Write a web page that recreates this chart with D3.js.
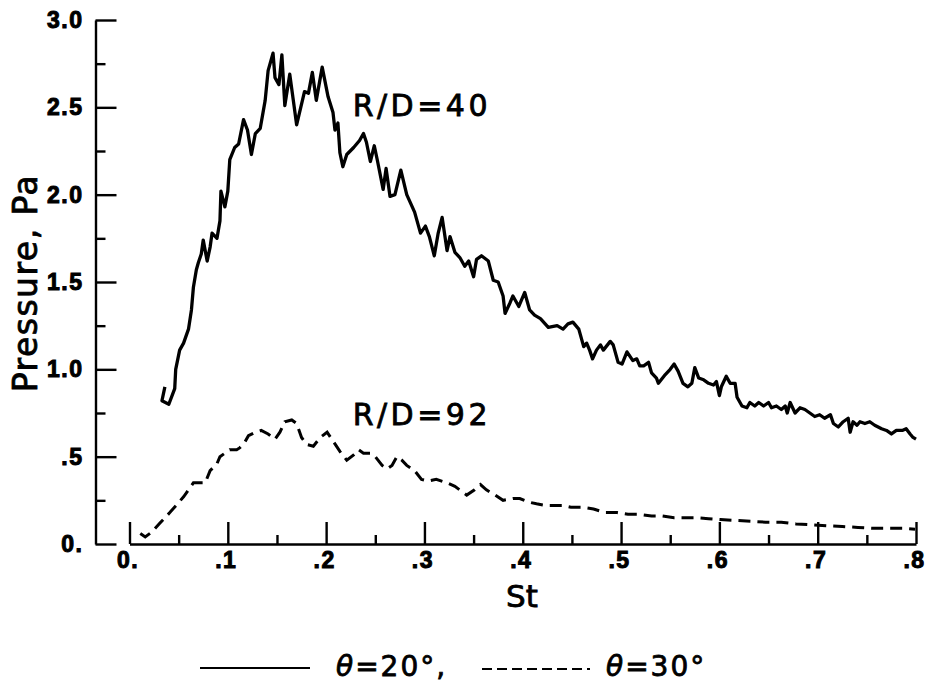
<!DOCTYPE html>
<html>
<head>
<meta charset="utf-8">
<script src="https://cdn.jsdelivr.net/npm/d3@7/dist/d3.min.js"></script>
<style>
  html, body { margin: 0; padding: 0; background: #fff; }
  svg { display: block; }
  .lbl { font-family: "DejaVu Sans", sans-serif; fill: #000; stroke: #000; stroke-width: 0.8px; }
</style>
</head>
<body>
<svg id="chart" width="927" height="690"></svg>
<script>
// Strouhal number (St) and pressure (Pa) for theta = 20 deg, R/D = 40
const solidSt = [0.036,0.033,0.040,0.046,0.047,0.051,0.055,0.060,0.063,0.065,
  0.068,0.070,0.073,0.075,0.079,0.082,0.084,0.089,0.092,0.093,
  0.097,0.100,0.102,0.107,0.111,0.116,0.120,0.124,0.128,0.133,
  0.138,0.141,0.146,0.148,0.152,0.155,0.158,0.163,0.170,0.178,
  0.182,0.186,0.190,0.196,0.202,0.207,0.209,0.212,0.214,0.217,
  0.221,0.228,0.234,0.238,0.241,0.245,0.249,0.252,0.258,0.261,
  0.265,0.270,0.276,0.282,0.290,0.296,0.301,0.305,0.310,0.314,
  0.318,0.323,0.326,0.331,0.336,0.341,0.345,0.350,0.353,0.358,
  0.365,0.370,0.375,0.380,0.382,0.387,0.390,0.396,0.402,0.407,
  0.412,0.418,0.426,0.435,0.441,0.446,0.451,0.457,0.462,0.465,
  0.468,0.471,0.475,0.479,0.482,0.489,0.492,0.497,0.501,0.506,
  0.512,0.516,0.519,0.523,0.528,0.531,0.536,0.538,0.545,0.550,
  0.554,0.558,0.563,0.568,0.572,0.575,0.579,0.584,0.589,0.594,
  0.597,0.600,0.602,0.607,0.611,0.616,0.618,0.623,0.628,0.631,
  0.636,0.640,0.645,0.650,0.653,0.658,0.663,0.667,0.669,0.672,
  0.677,0.682,0.687,0.692,0.697,0.702,0.707,0.713,0.716,0.721,
  0.726,0.731,0.733,0.736,0.740,0.743,0.748,0.753,0.758,0.765,
  0.770,0.775,0.780,0.786,0.790,0.794,0.797,0.800];
const solidP = [0.90,0.82,0.80,0.89,1.00,1.11,1.15,1.23,1.34,1.47,
  1.57,1.61,1.66,1.74,1.62,1.70,1.78,1.75,1.85,2.02,
  1.93,2.02,2.20,2.27,2.29,2.43,2.37,2.23,2.35,2.38,
  2.54,2.71,2.81,2.67,2.63,2.80,2.51,2.69,2.40,2.59,
  2.58,2.70,2.54,2.73,2.56,2.47,2.37,2.41,2.24,2.16,
  2.23,2.27,2.31,2.35,2.30,2.19,2.28,2.20,2.03,2.15,
  1.99,2.00,2.14,2.00,1.90,1.78,1.82,1.76,1.65,1.78,
  1.87,1.68,1.76,1.67,1.64,1.59,1.62,1.53,1.63,1.65,
  1.62,1.51,1.50,1.42,1.32,1.38,1.42,1.36,1.44,1.34,
  1.31,1.29,1.24,1.25,1.23,1.26,1.27,1.23,1.13,1.15,
  1.11,1.06,1.11,1.14,1.11,1.16,1.14,1.04,1.03,1.10,
  1.05,1.06,1.02,1.02,1.04,0.98,0.95,0.92,0.97,1.00,
  1.03,0.99,0.92,0.90,0.92,1.01,0.95,0.94,0.92,0.91,
  0.93,0.85,0.90,0.96,0.92,0.92,0.84,0.79,0.78,0.81,
  0.79,0.81,0.79,0.81,0.78,0.79,0.77,0.79,0.75,0.81,
  0.75,0.78,0.77,0.75,0.73,0.74,0.72,0.74,0.69,0.67,
  0.70,0.72,0.64,0.70,0.68,0.70,0.69,0.70,0.68,0.66,
  0.65,0.63,0.65,0.65,0.66,0.63,0.61,0.60];

// theta = 30 deg, R/D = 92
const dashedSt = [0.011,0.016,0.023,0.031,0.041,0.055,0.065,0.072,0.077,0.082,
  0.089,0.092,0.097,0.102,0.109,0.112,0.117,0.121,0.128,0.134,
  0.141,0.148,0.153,0.158,0.165,0.170,0.175,0.180,0.187,0.194,
  0.201,0.207,0.214,0.221,0.228,0.233,0.238,0.245,0.250,0.257,
  0.262,0.267,0.272,0.277,0.282,0.290,0.297,0.304,0.312,0.323,
  0.331,0.343,0.351,0.357,0.363,0.372,0.380,0.390,0.397,0.406,
  0.414,0.424,0.441,0.449,0.461,0.472,0.484,0.496,0.507,0.519,
  0.531,0.542,0.554,0.566,0.577,0.589,0.601,0.616,0.632,0.647,
  0.663,0.678,0.694,0.709,0.725,0.741,0.756,0.772,0.787,0.799];
const dashedP = [0.06,0.04,0.07,0.12,0.18,0.27,0.35,0.35,0.35,0.42,
  0.46,0.50,0.52,0.54,0.54,0.55,0.58,0.62,0.64,0.65,
  0.63,0.60,0.64,0.70,0.71,0.69,0.61,0.57,0.56,0.61,
  0.64,0.59,0.53,0.48,0.51,0.54,0.52,0.52,0.50,0.45,
  0.43,0.45,0.50,0.48,0.45,0.42,0.37,0.36,0.37,0.35,
  0.33,0.28,0.31,0.34,0.31,0.28,0.25,0.26,0.26,0.24,
  0.23,0.22,0.22,0.21,0.21,0.20,0.18,0.18,0.17,0.17,
  0.16,0.16,0.15,0.15,0.15,0.145,0.14,0.135,0.13,0.125,
  0.125,0.115,0.11,0.105,0.10,0.095,0.09,0.09,0.09,0.085];

// Axis ticks and their printed labels
const xMajor = [0, 0.1, 0.2, 0.3, 0.4, 0.5, 0.6, 0.7, 0.8];
const xMajorLabels = ["0.", ".1", ".2", ".3", ".4", ".5", ".6", ".7", ".8"];
const xMinor = [0.05, 0.15, 0.25, 0.35, 0.45, 0.55, 0.65, 0.75];
const yMajor = [0, 0.5, 1.0, 1.5, 2.0, 2.5, 3.0];
const yMajorLabels = ["0.", ".5", "1.0", "1.5", "2.0", "2.5", "3.0"];
const yMinor = [0.25, 0.75, 1.25, 1.75, 2.25, 2.75];

const svg = d3.select("#chart");
const x = d3.scaleLinear().domain([0, 0.8]).range([129.5, 916]);
const y = d3.scaleLinear().domain([0, 3]).range([544, 20]);
const yAxisX = 95.5;
const xAxisY = 544;

// Common styling for axis strokes and tick labels
function styleAxis(g) {
  g.selectAll("path.domain, .tick line")
    .attr("stroke", "#000").attr("stroke-width", 2.4);
  g.selectAll(".tick text")
    .attr("fill", "#000")
    .style("font-family", "'Liberation Sans', Arial, sans-serif")
    .style("font-weight", "bold")
    .style("font-size", "23px")
    .style("letter-spacing", "1.5px")
    .attr("stroke", "#000").attr("stroke-width", 1);
}

// Y axis: ticks point inward, labels to the left
svg.append("g").attr("transform", `translate(${yAxisX},0)`)
  .call(d3.axisLeft(y).tickValues(yMajor).tickSizeInner(-21).tickSizeOuter(0)
    .tickPadding(12).tickFormat((d, i) => yMajorLabels[i]))
  .call(styleAxis);
svg.append("g").attr("transform", `translate(${yAxisX},0)`)
  .call(d3.axisLeft(y).tickValues(yMinor).tickSizeInner(-10).tickSizeOuter(0).tickFormat(""))
  .call(g => g.select(".domain").remove())
  .call(styleAxis);

// X axis: offset from the y axis, ticks pointing up
svg.append("g").attr("transform", `translate(0,${xAxisY})`)
  .call(d3.axisBottom(x).tickValues(xMajor).tickSizeInner(-22).tickSizeOuter(0)
    .tickPadding(8).tickFormat((d, i) => xMajorLabels[i]))
  .call(styleAxis)
  .call(g => g.selectAll(".tick text").attr("dx", "-2"));
svg.append("g").attr("transform", `translate(0,${xAxisY})`)
  .call(d3.axisBottom(x).tickValues(xMinor).tickSizeInner(-9).tickSizeOuter(0).tickFormat(""))
  .call(g => g.select(".domain").remove())
  .call(styleAxis);

// Axis titles
svg.append("text").attr("class", "lbl")
  .attr("transform", `translate(37,283) rotate(-90)`)
  .attr("text-anchor", "middle")
  .style("font-size", "33px").style("letter-spacing", "1.5px")
  .text("Pressure, Pa");
svg.append("text").attr("class", "lbl")
  .attr("x", 522).attr("y", 607).attr("text-anchor", "middle")
  .style("font-size", "31px")
  .text("St");

// Curves
const line = d3.line().x(d => x(d[0])).y(d => y(d[1]));
const solidData = solidSt.map((s, i) => [s, solidP[i]]);
const dashedData = dashedSt.map((s, i) => [s, dashedP[i]]);

svg.append("path").datum(solidData)
  .attr("d", line).attr("fill", "none").attr("stroke", "#000")
  .attr("stroke-width", 3.3).attr("stroke-linejoin", "round");
svg.append("path").datum(dashedData)
  .attr("d", line).attr("fill", "none").attr("stroke", "#000")
  .attr("stroke-width", 3).attr("stroke-dasharray", "12,7");

// Curve annotations
svg.append("text").attr("class", "lbl")
  .attr("x", x(0.227)).attr("y", y(2.45))
  .style("font-size", "30px").style("letter-spacing", "3.5px")
  .text("R/D=40");
svg.append("text").attr("class", "lbl")
  .attr("x", x(0.227)).attr("y", y(0.68))
  .style("font-size", "30px").style("letter-spacing", "3.5px")
  .text("R/D=92");

// Legend
const lg = svg.append("g");
lg.append("line").attr("x1", 200).attr("x2", 310).attr("y1", 668).attr("y2", 668)
  .attr("stroke", "#000").attr("stroke-width", 2);
lg.append("line").attr("x1", 482).attr("x2", 590).attr("y1", 669).attr("y2", 669)
  .attr("stroke", "#000").attr("stroke-width", 2).attr("stroke-dasharray", "10,5");
const t1 = lg.append("text").attr("class", "lbl").attr("x", 336).attr("y", 676)
  .style("font-size", "28px").style("letter-spacing", "2px");
t1.append("tspan").style("font-style", "italic").text("θ");
t1.append("tspan").text("=20°,");
const t2 = lg.append("text").attr("class", "lbl").attr("x", 606).attr("y", 676)
  .style("font-size", "28px").style("letter-spacing", "2px");
t2.append("tspan").style("font-style", "italic").text("θ");
t2.append("tspan").text("=30°");
</script>
</body>
</html>
